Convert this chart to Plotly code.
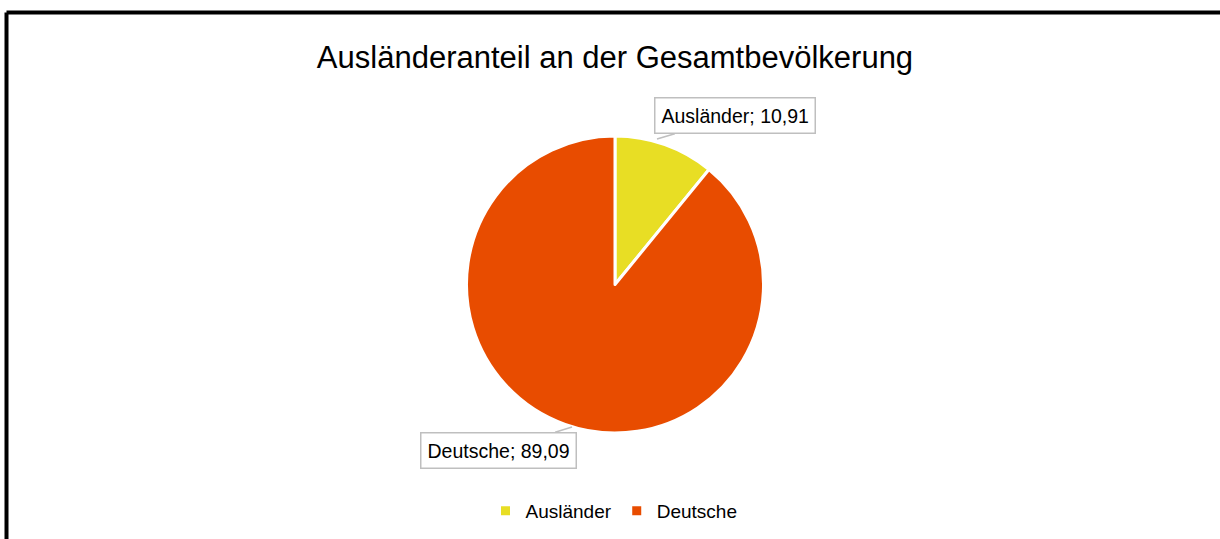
import plotly.graph_objects as go

# data
labels = ["Ausländer", "Deutsche"]
values = [10.91, 89.09]
colors = ["#E8DE24", "#E84C00"]
label_texts = ["Ausländer; 10,91", "Deutsche; 89,09"]

W, H = 1220, 539
FONT = "Liberation Sans, Arial, sans-serif"


def px(x, y):
    # pixel position -> paper coords
    return x / W, 1 - y / H


cx = 615 / W
fig = go.Figure(go.Pie(
    labels=labels,
    values=values,
    marker=dict(colors=colors, line=dict(color="white", width=3)),
    sort=False,
    direction="clockwise",
    rotation=0,
    textinfo="none",
    hoverinfo="label+value",
    domain=dict(x=[cx - 0.2, cx + 0.2], y=[1 - 433 / H, 1 - 136 / H]),
))

# callout labels
callouts = [
    # tip x, tip y, box centre x, box centre y
    (657, 139, 735, 116),
    (572, 427, 498, 450),
]
for text, (tx, ty, bx, by) in zip(label_texts, callouts):
    x, y = px(tx, ty)
    fig.add_annotation(
        x=x, y=y, xref="paper", yref="paper",
        ax=bx - tx, ay=by - ty,
        text=text, showarrow=True, arrowhead=0,
        arrowcolor="#BFBFBF", arrowwidth=1.5,
        bordercolor="#BFBFBF", borderwidth=1.5, borderpad=6,
        bgcolor="white",
        font=dict(size=19.5, color="black"),
    )

# frame (top and left edges visible)
fig.add_shape(type="line", xref="paper", yref="paper",
              x0=6.5 / W, x1=1, y0=1 - 12.5 / H, y1=1 - 12.5 / H,
              line=dict(color="black", width=4))
fig.add_shape(type="line", xref="paper", yref="paper",
              x0=6.5 / W, x1=6.5 / W, y0=0, y1=1 - 12.5 / H,
              line=dict(color="black", width=4))

fig.update_layout(
    width=W, height=H,
    margin=dict(l=0, r=0, t=0, b=0),
    paper_bgcolor="white",
    font=dict(family=FONT, color="black"),
    title=dict(text="Ausländeranteil an der Gesamtbevölkerung",
               x=615 / W, xanchor="center", y=1 - 57 / H, yanchor="middle",
               font=dict(size=31, color="black")),
    legend=dict(orientation="h", x=614 / W, xanchor="center",
                y=1 - 511 / H, yanchor="middle",
                font=dict(size=19), itemwidth=30),
    showlegend=True,
)

# drop the default page margin so the figure sits at (0, 0)
fig.write_html("out.html",
               config={"displayModeBar": False},
               post_script="document.body.style.margin='0';"
                           "document.body.style.overflow='hidden';")
